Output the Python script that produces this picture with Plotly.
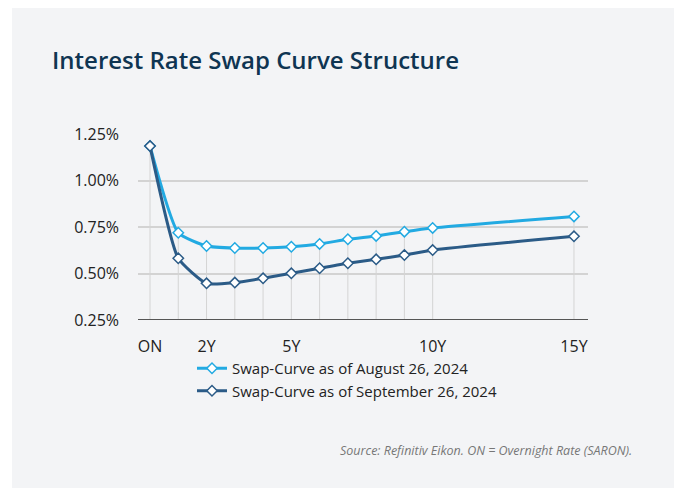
import plotly.graph_objects as go

tenor_years = [0, 1, 2, 3, 4, 5, 6, 7, 8, 9, 10, 15]
tick_vals = [0, 2, 5, 10, 15]
tick_text = ["ON", "2Y", "5Y", "10Y", "15Y"]
aug = [1.185, 0.719, 0.648, 0.637, 0.637, 0.644, 0.659, 0.684, 0.702, 0.725, 0.745, 0.807]
sep = [1.185, 0.582, 0.447, 0.451, 0.474, 0.501, 0.528, 0.555, 0.576, 0.599, 0.626, 0.700]
y_ticks = [0.25, 0.50, 0.75, 1.00, 1.25]
y_tick_text = ["0.25%", "0.50%", "0.75%", "1.00%", "1.25%"]
name_aug = "Swap-Curve as of August 26, 2024"
name_sep = "Swap-Curve as of September 26, 2024"

C_AUG = "#22aae2"
C_SEP = "#2b5b87"
Y_MIN = 0.25

fig = go.Figure()

# drop lines from each point to the x axis
dx, dy = [], []
for x, a, s in zip(tenor_years, aug, sep):
    dx += [x, x, None]
    dy += [Y_MIN, max(a, s), None]
fig.add_trace(go.Scatter(x=dx, y=dy, mode="lines", line=dict(color="#d4d4d4", width=1),
                         hoverinfo="skip", showlegend=False))

for name, vals, col in [(name_aug, aug, C_AUG), (name_sep, sep, C_SEP)]:
    fig.add_trace(go.Scatter(
        x=tenor_years, y=vals, name=name, mode="lines+markers",
        line=dict(color=col, width=3, shape="spline", smoothing=0.5),
        marker=dict(symbol="diamond", size=8, color="white", line=dict(color=col, width=1.5)),
        cliponaxis=False,
    ))

fig.update_layout(
    width=677, height=488,
    margin=dict(l=138, r=89, t=134, b=168),
    paper_bgcolor="white",
    plot_bgcolor="#f3f4f6",
    font=dict(family="Open Sans, sans-serif", color="#222222", size=16),
    title=dict(text="Interest Rate Swap Curve Structure", x=52 / 677, xanchor="left",
               y=1 - 61 / 488, yanchor="middle",
               font=dict(family="Open Sans, sans-serif", size=24, color="#0f3552", weight=600)),
    xaxis=dict(range=[-0.425, 15.496], tickvals=tick_vals, ticktext=tick_text, showgrid=False,
               zeroline=False, showline=False, ticks="", ticklabelstandoff=15,
               tickfont=dict(size=16, color="#222")),
    yaxis=dict(range=[0.25, 1.25], tickvals=y_ticks, ticktext=y_tick_text, showgrid=True,
               gridcolor="#d3d3d3", gridwidth=1.5, zeroline=False, showline=False, ticks="",
               ticklabelstandoff=18, tickfont=dict(size=16, color="#222")),
    legend=dict(x=(192 - 138) / 450, y=-0.172, xanchor="left", yanchor="top",
                bgcolor="rgba(0,0,0,0)", font=dict(size=15, color="#222"),
                tracegroupgap=0, itemwidth=30),
    showlegend=True,
    shapes=[
        dict(type="rect", xref="paper", yref="paper", layer="below",
             x0=-126 / 450, x1=1 + 86 / 450, y0=-168 / 186, y1=1 + 126 / 186,
             fillcolor="#f3f4f6", line=dict(width=0)),
        dict(type="line", xref="paper", yref="y", x0=0, x1=1, y0=Y_MIN, y1=Y_MIN,
             line=dict(color="#555555", width=2)),
    ],
    annotations=[
        dict(text="Source: Refinitiv Eikon. ON = Overnight Rate (SARON).", xref="paper", yref="paper",
             x=1 + 46 / 450, y=-130 / 186, xanchor="right", yanchor="middle", showarrow=False,
             font=dict(size=12.5, color="#777777", family="Open Sans, sans-serif", style="italic")),
    ],
)

fig.write_html("out.html")
